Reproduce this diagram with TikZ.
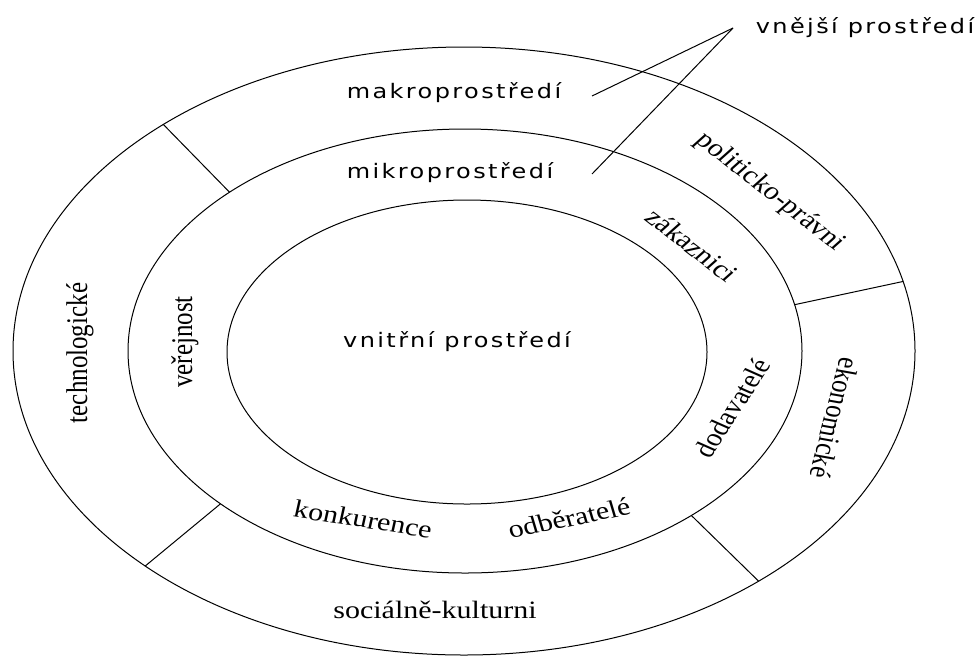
\documentclass[tikz,border=0pt]{standalone}
\usepackage{fontspec}
\usetikzlibrary{shapes.geometric}
\newfontfamily\ringsans[LetterSpace=10]{DejaVu Sans}
\newfontfamily\ringserif{Liberation Serif}

\begin{document}
\begin{tikzpicture}[x=1pt,y=-1pt,
  ring/.style={draw, ellipse, line width=1pt, inner sep=0pt, outer sep=0pt},
  sanslabel/.style={font=\ringsans\fontsize{20}{24}\selectfont, inner sep=0pt, xscale=1.2},
  seriflabel/.style={font=\ringserif\fontsize{25}{30}\selectfont, inner sep=0pt, xscale=1.2},
  divider/.style={line width=1pt}]
  \useasboundingbox (0,0) rectangle (976,657);

  % three environments
  \node[ring, minimum width=902pt, minimum height=608pt] (outer) at (464,351) {};
  \node[ring, minimum width=674pt, minimum height=444pt] (middle) at (465,351) {};
  \node[ring, minimum width=480pt, minimum height=304pt] (inner) at (467,352) {};

  % sectors of the outer ring
  \draw[divider] (middle.146) -- (outer.143);
  \draw[divider] (middle.8.4) -- (outer.9.5);
  \draw[divider] (middle.-36.4) -- (outer.-38.6);
  \draw[divider] (middle.212.2) -- (outer.214.6);

  \node[sanslabel, anchor=base] (makro) at (454,98) {makroprostředí};
  \node[sanslabel, anchor=base] (mikro) at (450,178) {mikroprostředí};
  \node[sanslabel, anchor=base] (vnitrni) at (457,347) {vnitřní prostředí};
  \node[sanslabel, anchor=base] (vnejsi) at (865,33) {vnější prostředí};

  \coordinate (tip) at (733,28);
  \coordinate (makroend) at (592,96);
  \coordinate (mikroend) at (592,174);
  \draw[divider] (tip) -- (makroend);
  \draw[divider] (tip) -- (mikroend);

  % macro factors
  \node[seriflabel, rotate=90] (techno) at (80,353) {technologické};
  \node[seriflabel, rotate=-43] (polit) at (770,192) {politicko-právni};
  \node[seriflabel, rotate=-102] (ekon) at (835,418) {ekonomické};
  \node[seriflabel, anchor=base] (social) at (435,618) {sociálně-kulturni};

  % micro factors
  \node[seriflabel, rotate=90] (verej) at (185,342) {veřejnost};
  \node[seriflabel, rotate=-43] (zakaz) at (692,245) {zákaznici};
  \node[seriflabel, rotate=62] (dodav) at (732,408) {dodavatelé};
  \node[seriflabel, rotate=14] (odber) at (569,518) {odběratelé};
  \node[seriflabel, rotate=-10.5] (konk) at (363,519) {konkurence};
\end{tikzpicture}
\end{document}
